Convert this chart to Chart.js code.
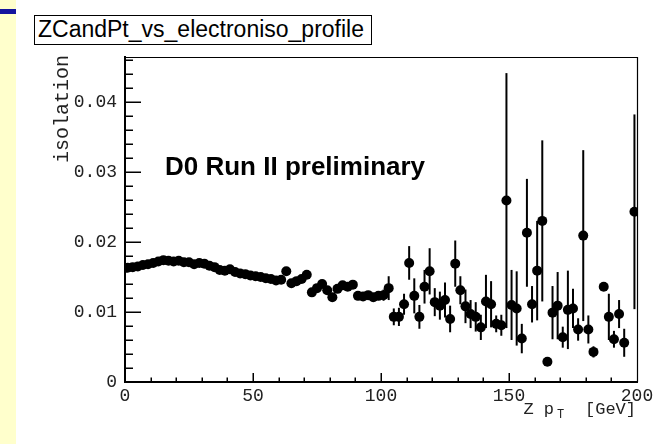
<!DOCTYPE html>
<html>
<head>
<meta charset="utf-8">
<script src="https://cdn.jsdelivr.net/npm/chart.js@4.4.1/dist/chart.umd.min.js"></script>
<style>
html,body{margin:0;padding:0;background:#fff;width:670px;height:444px;overflow:hidden;}
#strip{position:absolute;left:0;top:0;width:16px;height:444px;background:#ffffcc;}
#bar{position:absolute;left:0;top:9px;width:16px;height:5px;background:#14149e;}
#title{position:absolute;left:34px;top:15px;width:338px;height:30px;box-sizing:border-box;border:1.5px solid #000;
  font:23px "Liberation Sans",Arial,sans-serif;line-height:26px;padding-left:3px;white-space:nowrap;color:#000;}
#wrap{position:absolute;left:0;top:0;width:670px;height:444px;}
</style>
</head>
<body>
<div id="strip"></div>
<div id="bar"></div>
<div id="title">ZCandPt_vs_electroniso_profile</div>
<div id="wrap"><canvas id="c" width="670" height="444"></canvas></div>
<script>
// ---- data ----
const binCenters = [
  1,3,5,7,9,11,13,15,17,19,21,23,25,27,29,31,33,35,37,39,
  41,43,45,47,49,51,53,55,57,59,61,63,65,67,69,71,73,75,77,79,
  81,83,85,87,89,91,93,95,97,99,101,103,105,107,109,111,113,115,117,119,
  121,123,125,127,129,131,133,135,137,139,141,143,145,147,149,151,153,155,157,159,
  161,163,165,167,169,171,173,175,177,179,181,183,185,187,189,191,193,195,197,199
];
const isoValues = [
  0.0163,0.0164,0.0165,0.0167,0.0168,0.0170,0.0172,0.0174,0.0173,0.0172,
  0.0173,0.0171,0.0171,0.0168,0.0170,0.0169,0.0166,0.0164,0.0160,0.0159,
  0.0161,0.0157,0.0155,0.0154,0.0152,0.0151,0.0150,0.0148,0.0147,0.0145,
  0.0146,0.0158,0.0141,0.0144,0.0147,0.0153,0.0128,0.0134,0.0140,0.0131,
  0.0121,0.0133,0.0138,0.0136,0.0139,0.0123,0.0122,0.0124,0.0121,0.0123,
  0.0124,0.0134,0.0093,0.0093,0.0111,0.0170,0.0123,0.0093,0.0136,0.0158,
  0.0114,0.0109,0.0117,0.0090,0.0169,0.0131,0.0108,0.0097,0.0093,0.0078,
  0.0115,0.0111,0.0083,0.0081,0.0259,0.0110,0.0105,0.0062,0.0213,0.0111,
  0.0159,0.0230,0.0029,0.0099,0.0109,0.0064,0.0103,0.0105,0.0075,0.0209,
  0.0075,0.0043,null,0.0136,0.0093,0.0061,0.0097,0.0056,null,0.0243
];
const isoErrors = [
  0.0002,0.0002,0.0002,0.0002,0.0002,0.0002,0.0002,0.0002,0.0002,0.0002,
  0.0002,0.0002,0.0002,0.0002,0.0002,0.0002,0.0002,0.0002,0.0002,0.0002,
  0.0002,0.0002,0.0002,0.0002,0.0002,0.0002,0.0002,0.0002,0.0002,0.0002,
  0.0003,0.0003,0.0003,0.0003,0.0003,0.0003,0.0003,0.0003,0.0003,0.0003,
  0.0004,0.0004,0.0004,0.0004,0.0004,0.0006,0.0006,0.0006,0.0006,0.0006,
  0.0008,0.0017,0.0012,0.0013,0.0015,0.0024,0.0025,0.0017,0.0024,0.0033,
  0.0020,0.0020,0.0025,0.0019,0.0033,0.0020,0.0024,0.0020,0.0021,0.0018,
  0.0038,0.0033,0.0012,0.0015,0.0182,0.0050,0.0053,0.0021,0.0077,0.0026,
  0.0071,0.0115,0.0005,0.0038,0.0048,0.0015,0.0056,0.0028,0.0016,0.0122,
  0.0020,0.0008,null,0.0005,0.0033,0.0012,0.0020,0.0020,null,0.0139
];
const xTickValues = [0,50,100,150,200];
const xTickLabels = ['0','50','100','150','200'];
const yTickValues = [0,0.01,0.02,0.03,0.04];
const yTickLabels = ['0','0.01','0.02','0.03','0.04'];
const yAxisTitle = 'isolation';
const xAxisTitleMain = 'Z p';
const xAxisTitleSub = 'T';
const xAxisTitleUnit = '[GeV]';
const plotLabel = 'D0 Run II preliminary';

// ---- build points ----
const points = [];
binCenters.forEach((c,i)=>{ if(isoValues[i]!==null) points.push({x:c,y:isoValues[i]}); });

const MONO = '"Liberation Mono","DejaVu Sans Mono",monospace';
const SANS = '"Liberation Sans",Arial,sans-serif';

const rootStyle = {
  id:'rootStyle',
  beforeDatasetsDraw(chart){
    const {ctx, chartArea:a, scales:{x,y}} = chart;
    ctx.save();
    ctx.beginPath(); ctx.rect(a.left,a.top,a.right-a.left,a.bottom-a.top); ctx.clip();
    ctx.strokeStyle='#000'; ctx.lineWidth=2;
    binCenters.forEach((c,i)=>{
      const v=isoValues[i], e=isoErrors[i];
      if(v===null||e===null) return;
      const px=x.getPixelForValue(c);
      ctx.beginPath();
      ctx.moveTo(px,y.getPixelForValue(v-e));
      ctx.lineTo(px,y.getPixelForValue(v+e));
      ctx.stroke();
    });
    ctx.restore();
  },
  afterDraw(chart){
    const {ctx, chartArea:a, scales:{x,y}} = chart;
    ctx.save();
    // frame top/right
    ctx.strokeStyle='#000'; ctx.lineWidth=1.2;
    ctx.beginPath();
    ctx.moveTo(a.left,a.top+0.5); ctx.lineTo(a.right+0.5,a.top+0.5); ctx.lineTo(a.right+0.5,a.bottom);
    ctx.stroke();
    // inward ticks
    ctx.lineWidth=1.5;
    ctx.beginPath();
    for(let k=0;k<=23;k++){
      const v=k*0.002; const py=Math.round(y.getPixelForValue(v))+0.25;
      const len = (k%5===0)?16:8;
      ctx.moveTo(a.left,py); ctx.lineTo(a.left+len,py);
    }
    for(let k=1;k<20;k++){
      const v=k*10; const px=Math.round(x.getPixelForValue(v))+0.25;
      const len = (k%5===0)?9:4.5;
      ctx.moveTo(px,a.bottom); ctx.lineTo(px,a.bottom-len);
    }
    ctx.stroke();
    // y title
    ctx.fillStyle='#222';
    ctx.save();
    ctx.translate(a.left-62,a.top-2);
    ctx.rotate(-Math.PI/2);
    ctx.font='20px '+MONO; ctx.textAlign='right'; ctx.textBaseline='middle';
    ctx.fillText(yAxisTitle,0,0);
    ctx.restore();
    // x title
    ctx.font='17px '+MONO; ctx.textBaseline='alphabetic';
    ctx.textAlign='right';
    ctx.fillText(xAxisTitleUnit,a.right-1,414);
    ctx.fillText(xAxisTitleMain,a.right-83,414);
    ctx.font='12px '+MONO; ctx.textAlign='left';
    ctx.fillText(xAxisTitleSub,a.right-80,418);
    // label
    ctx.fillStyle='#000';
    ctx.font='bold 26px '+SANS; ctx.textAlign='left';
    ctx.fillText(plotLabel,a.left+40,a.top+118);
    ctx.restore();
  }
};

new Chart(document.getElementById('c'),{
  type:'scatter',
  data:{datasets:[{
    data:points,
    pointRadius:5, pointHoverRadius:5,
    pointBackgroundColor:'#000', pointBorderWidth:0, borderWidth:0,
    showLine:false
  }]},
  options:{
    responsive:false, animation:false, devicePixelRatio:1,
    events:[],
    layout:{padding:{left:0,top:57,right:33,bottom:0}},
    plugins:{legend:{display:false},tooltip:{enabled:false},title:{display:false}},
    scales:{
      x:{
        type:'linear', min:0, max:200,
        afterBuildTicks:s=>{ s.ticks = xTickValues.map(v=>({value:v})); },
        afterFit:s=>{ s.height = 62; },
        ticks:{callback:(v,i)=>xTickLabels[i], font:{family:MONO,size:18}, color:'#222', padding:3, maxRotation:0, autoSkip:false},
        grid:{display:false, drawTicks:false},
        border:{display:true,color:'#000',width:2}
      },
      y:{
        type:'linear', min:0, max:0.0464,
        afterBuildTicks:s=>{ s.ticks = yTickValues.map(v=>({value:v})); },
        afterFit:s=>{ s.width = 125; },
        ticks:{callback:(v,i)=>yTickLabels[i], font:{family:MONO,size:18}, color:'#222', padding:8, autoSkip:false},
        grid:{display:false, drawTicks:false},
        border:{display:true,color:'#000',width:2}
      }
    }
  },
  plugins:[rootStyle]
});
</script>
</body>
</html>
